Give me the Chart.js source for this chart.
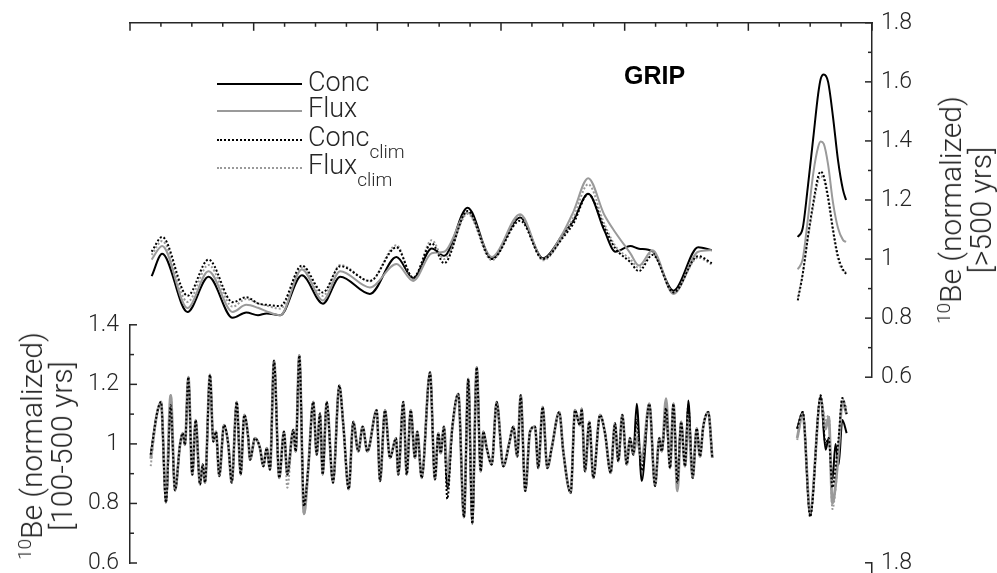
<!DOCTYPE html>
<html>
<head>
<meta charset="utf-8">
<script src="https://cdn.jsdelivr.net/npm/chart.js@4.4.0/dist/chart.umd.min.js"></script>
<style>
html, body { margin:0; padding:0; width:997px; height:573px; overflow:hidden; background:#fff; }
.box { position:absolute; left:0; width:997px; }
canvas { display:block; }
.txt { position:absolute; font-family:'Roboto','Liberation Sans',sans-serif; font-weight:300; color:#262626; white-space:nowrap; }
.leg { font-size:27px; line-height:27px; }
.leg sub { font-size:19px; line-height:1; vertical-align:-12px; }
.ls { position:absolute; left:217px; width:85px; height:0; }
.ttl { font-size:30px; line-height:30px; text-align:center; transform:translate(-50%,-50%) rotate(-90deg); }
.ttl sup { font-size:19px; line-height:1; vertical-align:11px; }
.grip { position:absolute; font-family:'Liberation Sans','Arimo',sans-serif; font-weight:bold; font-size:25px; line-height:25px; color:#000; }
</style>
</head>
<body>
<div class="box" style="top:0;height:400px"><canvas id="cTop"></canvas></div>
<div class="box" style="top:300px;height:290px"><canvas id="cBot"></canvas></div>
<div class="box" style="top:540px;height:420px"><canvas id="cNext"></canvas></div>

<div class="ls" style="top:83px;border-top:2px solid #000"></div>
<div class="ls" style="top:110px;border-top:2px solid #9a9a9a"></div>
<div class="ls" style="top:139px;border-top:2px dotted #000"></div>
<div class="ls" style="top:167px;border-top:2px dotted #9a9a9a"></div>
<div class="txt leg" style="left:308px;top:69px">Conc</div>
<div class="txt leg" style="left:308px;top:95px">Flux</div>
<div class="txt leg" style="left:308px;top:124px">Conc<sub>clim</sub></div>
<div class="txt leg" style="left:308px;top:152px">Flux<sub>clim</sub></div>
<div class="grip" style="left:624px;top:63px">GRIP</div>
<div class="txt ttl" style="left:965px;top:210px"><sup>10</sup>Be (normalized)<br>[&gt;500 yrs]</div>
<div class="txt ttl" style="left:46px;top:446px"><sup>10</sup>Be (normalized)<br>[100-500 yrs]</div>

<script>
// ---------- axis ranges / tick labels ----------
const X_MIN = 0, X_MAX = 12000;
const TOP_Y_TICKS = [0.6, 0.8, 1, 1.2, 1.4, 1.6, 1.8];
const BOT_Y_TICKS = [0.6, 0.8, 1, 1.2, 1.4];
const NEXT_Y_TICKS = [0.6, 0.8, 1, 1.2, 1.4, 1.6, 1.8];

// ---------- upper panel: >500 yr component (null = data gap) ----------
const TOP_YEARS = [350, 520, 930, 1270, 1660, 1880, 2070, 2210, 2430, 2780,
  3120, 3400, 3880, 4310, 4580, 4880, 5080, 5460, 5850, 6310,
  6680, 7010, 7170, 7410, 7670, 7850, 8090, 8230, 8450, 8790,
  9190, 9410, 10100,
  10800, 10880, 10960, 11050, 11130, 11170, 11220, 11290, 11370, 11450, 11530, 11580];
const TOP_CONC = [0.942, 1.018, 0.821, 0.940, 0.801, 0.819, 0.810, 0.816, 0.810, 0.945,
  0.849, 0.940, 0.882, 1.007, 0.935, 1.036, 1.011, 1.174, 1.003, 1.141,
  1.003, 1.086, 1.130, 1.221, 1.097, 1.025, 1.044, 1.035, 1.026, 0.893,
  1.040, 1.030, null,
  1.075, 1.105, 1.240, 1.410, 1.560, 1.610, 1.625, 1.600, 1.480, 1.335, 1.235, 1.200];
const TOP_FLUX = [0.998, 1.044, 0.834, 0.959, 0.821, 0.845, 0.835, 0.823, 0.810, 0.965,
  0.860, 0.959, 0.904, 0.983, 0.926, 1.020, 1.025, 1.158, 1.007, 1.152,
  1.000, 1.092, 1.160, 1.274, 1.150, 1.090, 1.020, 0.978, 1.030, 0.882,
  1.025, 1.030, null,
  0.965, 1.000, 1.130, 1.290, 1.380, 1.398, 1.390, 1.320, 1.190, 1.105, 1.065, 1.058];
const TOP_CONC_CLIM = [1.025, 1.075, 0.876, 0.998, 0.854, 0.871, 0.850, 0.845, 0.841, 0.978,
  0.887, 0.976, 0.926, 1.040, 0.937, 1.053, 0.986, 1.163, 1.000, 1.130,
  1.000, 1.075, 1.120, 1.220, 1.108, 1.036, 0.990, 0.959, 1.014, 0.887,
  1.010, 0.986, null,
  0.860, 0.950, 1.070, 1.190, 1.280, 1.296, 1.280, 1.210, 1.100, 1.010, 0.965, 0.950];
const TOP_FLUX_CLIM = [1.014, 1.061, 0.855, 0.980, 0.839, 0.865, 0.850, 0.842, 0.832, 0.971,
  0.875, 0.980, 0.925, 1.047, 0.931, 1.064, 1.000, 1.153, 0.996, 1.147,
  0.996, 1.080, 1.140, 1.253, 1.120, 1.044, 1.000, 0.970, 1.023, 0.887,
  1.005, 0.981, null,
  0.870, 0.950, 1.065, 1.180, 1.265, 1.280, 1.270, 1.200, 1.090, 1.000, 0.960, 0.955];

// ---------- lower panel: 100-500 yr component (null = data gap) ----------
const BOT_YEARS = [335, 432, 501, 582, 658, 728, 809, 852, 889, 943,
  1008, 1062, 1132, 1176, 1213, 1294, 1347, 1391, 1444, 1520,
  1590, 1645, 1726, 1790, 1848, 1913, 1941, 2022, 2102, 2156,
  2211, 2264, 2329, 2414, 2490, 2544, 2641, 2680, 2738, 2814,
  2883, 2964, 3019, 3073, 3116, 3181, 3283, 3385, 3450, 3537,
  3611, 3692, 3763, 3838, 3990, 4043, 4124, 4205, 4302, 4339,
  4420, 4475, 4540, 4609, 4646, 4717, 4852, 4932, 4986, 5025,
  5078, 5131, 5215, 5309, 5401, 5471, 5536, 5607, 5672, 5714,
  5769, 5850, 5930, 6037, 6134, 6199, 6264, 6318, 6393, 6469,
  6550, 6603, 6674, 6749, 6820, 6943, 7007, 7127, 7197, 7277,
  7305, 7358, 7428, 7493, 7601, 7682, 7774, 7843, 7897, 7962,
  8033, 8086, 8140, 8195, 8276, 8399, 8491, 8561, 8600, 8670,
  8734, 8788, 8853, 8913, 8976, 9029, 9100, 9165, 9218, 9271,
  9352, 9417, 10100,
  10790, 10880, 11000, 11170, 11250, 11300, 11360, 11410, 11460, 11520, 11590];
const BOT_CONC = [0.964, 1.097, 1.141, 0.803, 1.120, 0.844, 0.997, 1.036, 0.997, 1.224,
  0.897, 1.080, 0.864, 0.931, 0.870, 1.232, 1.008, 1.041, 0.892, 1.063,
  0.997, 0.870, 1.141, 0.897, 1.097, 1.019, 0.947, 1.019, 0.986, 0.925,
  0.986, 0.914, 1.279, 0.886, 1.041, 0.897, 1.047, 0.975, 1.297, 0.800,
  0.919, 1.141, 0.964, 1.102, 0.897, 1.141, 0.870, 1.196, 1.063, 0.848,
  1.074, 0.975, 1.058, 0.975, 1.113, 0.875, 1.113, 0.953, 1.019, 0.897,
  1.141, 0.897, 1.113, 0.953, 1.041, 0.886, 1.240, 0.881, 1.036, 0.969,
  1.058, 0.850, 1.060, 1.168, 0.754, 1.218, 0.732, 1.257, 0.908, 1.041,
  0.986, 0.931, 1.141, 0.925, 1.003, 1.058, 0.958, 1.163, 0.842, 1.041,
  1.058, 0.919, 1.124, 0.919, 0.986, 1.107, 0.975, 0.836, 1.113, 1.063,
  1.118, 0.908, 1.074, 0.886, 1.097, 1.036, 0.903, 1.069, 0.942, 1.097,
  0.931, 1.019, 0.964, 1.135, 0.875, 1.135, 0.859, 1.019, 0.975, 1.100,
  0.919, 1.135, 0.890, 1.074, 0.925, 1.146, 0.886, 1.052, 0.958, 1.058,
  1.107, 0.953, null,
  1.050, 1.107, 0.760, 1.160, 0.980, 1.020, 0.880, 1.000, 0.930, 1.080, 1.036];
const BOT_FLUX = [0.950, 1.097, 1.141, 0.820, 1.163, 0.844, 0.997, 1.036, 0.997, 1.224,
  0.897, 1.080, 0.864, 0.931, 0.870, 1.232, 1.008, 1.041, 0.892, 1.063,
  0.997, 0.870, 1.141, 0.897, 1.097, 1.019, 0.947, 1.019, 0.986, 0.925,
  0.986, 0.914, 1.279, 0.886, 1.041, 0.900, 1.047, 0.975, 1.297, 0.765,
  0.919, 1.141, 0.964, 1.102, 0.897, 1.141, 0.870, 1.196, 1.063, 0.848,
  1.074, 0.975, 1.058, 0.975, 1.113, 0.875, 1.113, 0.953, 1.019, 0.897,
  1.141, 0.897, 1.113, 0.953, 1.041, 0.886, 1.240, 0.881, 1.036, 0.969,
  1.058, 0.900, 1.060, 1.168, 0.754, 1.218, 0.750, 1.257, 0.908, 1.041,
  0.986, 0.931, 1.141, 0.925, 1.003, 1.058, 0.958, 1.163, 0.842, 1.041,
  1.058, 0.919, 1.124, 0.919, 0.986, 1.107, 0.975, 0.836, 1.113, 1.063,
  1.118, 0.908, 1.074, 0.886, 1.097, 1.036, 0.903, 1.069, 0.942, 1.097,
  0.931, 1.019, 0.964, 1.020, 0.950, 1.135, 0.859, 1.019, 0.975, 1.152,
  0.919, 1.135, 0.842, 1.074, 0.925, 1.080, 0.886, 1.052, 0.958, 1.058,
  1.107, 0.953, null,
  1.020, 1.100, 0.770, 1.150, 1.050, 1.090, 0.800, 0.860, 0.980, 1.140, 1.100];
const BOT_CONC_CLIM = [0.964, 1.097, 1.141, 0.803, 1.130, 0.844, 0.997, 1.036, 0.997, 1.224,
  0.897, 1.080, 0.864, 0.931, 0.870, 1.232, 1.008, 1.041, 0.892, 1.063,
  0.997, 0.870, 1.141, 0.897, 1.097, 1.019, 0.947, 1.019, 0.986, 0.925,
  0.986, 0.914, 1.279, 0.886, 1.041, 0.897, 1.047, 0.975, 1.297, 0.790,
  0.919, 1.141, 0.964, 1.102, 0.897, 1.141, 0.870, 1.196, 1.063, 0.848,
  1.074, 0.975, 1.058, 0.975, 1.113, 0.875, 1.113, 0.953, 1.019, 0.897,
  1.141, 0.897, 1.113, 0.953, 1.041, 0.886, 1.240, 0.881, 1.036, 0.969,
  1.058, 0.815, 1.060, 1.168, 0.754, 1.218, 0.732, 1.257, 0.908, 1.041,
  0.986, 0.931, 1.141, 0.925, 1.003, 1.058, 0.958, 1.163, 0.842, 1.041,
  1.058, 0.919, 1.124, 0.919, 0.986, 1.107, 0.975, 0.836, 1.113, 1.063,
  1.118, 0.908, 1.074, 0.886, 1.097, 1.036, 0.903, 1.069, 0.942, 1.097,
  0.931, 1.019, 0.964, 1.080, 0.910, 1.135, 0.859, 1.019, 0.975, 1.120,
  0.919, 1.135, 0.870, 1.074, 0.925, 1.130, 0.886, 1.052, 0.958, 1.058,
  1.107, 0.953, null,
  1.052, 1.107, 0.755, 1.163, 1.000, 1.020, 0.853, 0.920, 1.020, 1.154, 1.100];
const BOT_FLUX_CLIM = [0.925, 1.097, 1.141, 0.803, 1.163, 0.844, 0.997, 1.036, 0.997, 1.224,
  0.897, 1.080, 0.864, 0.931, 0.870, 1.232, 1.008, 1.041, 0.892, 1.063,
  0.997, 0.870, 1.141, 0.897, 1.097, 1.019, 0.947, 1.019, 0.986, 0.925,
  0.986, 0.914, 1.279, 0.886, 1.041, 0.853, 1.047, 0.975, 1.297, 0.765,
  0.919, 1.141, 0.964, 1.102, 0.897, 1.141, 0.870, 1.196, 1.063, 0.848,
  1.074, 0.975, 1.058, 0.975, 1.113, 0.875, 1.113, 0.953, 1.019, 0.897,
  1.141, 0.897, 1.113, 0.953, 1.041, 0.886, 1.240, 0.881, 1.036, 0.969,
  1.058, 0.860, 1.060, 1.168, 0.754, 1.218, 0.732, 1.257, 0.908, 1.041,
  0.986, 0.931, 1.141, 0.925, 1.003, 1.058, 0.958, 1.163, 0.842, 1.041,
  1.058, 0.919, 1.124, 0.919, 0.986, 1.107, 0.975, 0.836, 1.113, 1.063,
  1.118, 0.908, 1.074, 0.886, 1.097, 1.036, 0.903, 1.069, 0.942, 1.097,
  0.931, 1.019, 0.964, 1.050, 0.930, 1.135, 0.859, 1.019, 0.975, 1.140,
  0.919, 1.135, 0.860, 1.074, 0.925, 1.100, 0.886, 1.052, 0.958, 1.058,
  1.107, 0.953, null,
  1.013, 1.100, 0.770, 1.150, 1.080, 1.097, 0.781, 0.850, 0.980, 1.152, 1.120];

// ---------- styling ----------
const AXIS_COLOR = '#262626';
const FONT = "'Roboto','Liberation Sans',sans-serif";
const GRAY = '#9a9a9a';

function pts(xs, ys) { return xs.map((x, i) => ({ x: x, y: ys[i] })); }
function ds(label, xs, ys, color, width, dash, order) {
  return {
    label: label, data: pts(xs, ys), borderColor: color, borderWidth: width,
    borderDash: dash, pointRadius: 0, fill: false, spanGaps: false,
    cubicInterpolationMode: 'monotone', order: order, borderCapStyle: 'butt'
  };
}

// inward tick marks drawn from the library's own scales
const innerTicks = {
  id: 'innerTicks',
  afterDraw(chart, args, opts) {
    const ctx = chart.ctx, ca = chart.chartArea;
    ctx.save();
    ctx.strokeStyle = AXIS_COLOR;
    ctx.lineWidth = 1.5;
    (opts.axes || []).forEach(a => {
      const s = chart.scales[a.id];
      const n = Math.round((a.max - a.min) / a.step);
      for (let i = 0; i <= n; i++) {
        const v = a.min + i * a.step;
        const r = v / a.majorStep;
        const major = Math.abs(r - Math.round(r)) < 1e-6;
        const len = major ? a.majorLen : a.minorLen;
        const p = s.getPixelForValue(v);
        ctx.beginPath();
        if (a.side === 'top') { ctx.moveTo(p, ca.top); ctx.lineTo(p, ca.top + len); }
        else if (a.side === 'right') { ctx.moveTo(ca.right, p); ctx.lineTo(ca.right - len, p); }
        else { ctx.moveTo(ca.left, p); ctx.lineTo(ca.left + len, p); }
        ctx.stroke();
      }
    });
    ctx.restore();
  }
};

function yAxis(position, min, max, tickList, width, pad) {
  return {
    type: 'linear', position: position, min: min, max: max,
    afterBuildTicks(s) { s.ticks = tickList.map(v => ({ value: v })); },
    ticks: { font: { family: FONT, size: 23, weight: 300 }, color: AXIS_COLOR, padding: pad,
             callback: v => String(v) },
    grid: { drawOnChartArea: false, drawTicks: false },
    border: { display: true, color: AXIS_COLOR, width: 1.5 },
    afterFit(s) { s.width = width; }
  };
}

const common = {
  responsive: true, maintainAspectRatio: false, animation: false, devicePixelRatio: 1,
  events: []
};

// drawing order (bottom -> top): Conc, Flux, Flux_clim, Conc_clim
function fourSeries(xs, conc, flux, concClim, fluxClim, fluxWidth) {
  return [
    ds('Conc', xs, conc, '#000', 2, [], 3),
    ds('Flux', xs, flux, GRAY, fluxWidth, [], 2),
    ds('Conc clim', xs, concClim, '#000', 2, [2, 2], 0),
    ds('Flux clim', xs, fluxClim, GRAY, 2, [2, 2], 1)
  ];
}

// upper panel
new Chart(document.getElementById('cTop'), {
  type: 'line',
  data: { datasets: fourSeries(TOP_YEARS, TOP_CONC, TOP_FLUX, TOP_CONC_CLIM, TOP_FLUX_CLIM, 2) },
  options: Object.assign({}, common, {
    layout: { padding: { left: 130, right: 0, top: 19, bottom: 20 } },
    scales: {
      x: { type: 'linear', position: 'top', min: X_MIN, max: X_MAX,
           ticks: { display: false },
           grid: { drawOnChartArea: false, drawTicks: false },
           border: { display: true, color: AXIS_COLOR, width: 1.5 },
           afterFit(s) { s.height = 0; } },
      y: yAxis('right', 0.6, 1.8, TOP_Y_TICKS, 125, 9)
    },
    plugins: {
      legend: { display: false }, tooltip: { enabled: false },
      innerTicks: { axes: [
        { id: 'x', side: 'top', min: X_MIN, max: X_MAX, step: 500, majorStep: 2000, majorLen: 8, minorLen: 4 },
        { id: 'y', side: 'right', min: 0.6, max: 1.8, step: 0.1, majorStep: 0.2, majorLen: 7, minorLen: 4 }
      ]}
    }
  }),
  plugins: [innerTicks]
});

// lower panel
new Chart(document.getElementById('cBot'), {
  type: 'line',
  data: { datasets: fourSeries(BOT_YEARS, BOT_CONC, BOT_FLUX, BOT_CONC_CLIM, BOT_FLUX_CLIM, 2.8) },
  options: Object.assign({}, common, {
    layout: { padding: { left: 0, right: 125, top: 22, bottom: 27 } },
    scales: {
      x: { type: 'linear', display: false, min: X_MIN, max: X_MAX },
      y: yAxis('left', 0.6, 1.4, BOT_Y_TICKS, 130, 11)
    },
    plugins: {
      legend: { display: false }, tooltip: { enabled: false },
      innerTicks: { axes: [
        { id: 'y', side: 'left', min: 0.6, max: 1.4, step: 0.1, majorStep: 0.2, majorLen: 7, minorLen: 4 }
      ]}
    }
  }),
  plugins: [innerTicks]
});

// top of the next (cropped) panel's right axis
new Chart(document.getElementById('cNext'), {
  type: 'line',
  data: { datasets: [] },
  options: Object.assign({}, common, {
    layout: { padding: { left: 130, right: 0, top: 22, bottom: 36 } },
    scales: {
      x: { type: 'linear', display: false, min: X_MIN, max: X_MAX },
      y: yAxis('right', 0.6, 1.8, NEXT_Y_TICKS, 125, 9)
    },
    plugins: {
      legend: { display: false }, tooltip: { enabled: false },
      innerTicks: { axes: [
        { id: 'y', side: 'right', min: 0.6, max: 1.8, step: 0.1, majorStep: 0.2, majorLen: 7, minorLen: 4 }
      ]}
    }
  }),
  plugins: [innerTicks]
});
</script>
</body>
</html>
